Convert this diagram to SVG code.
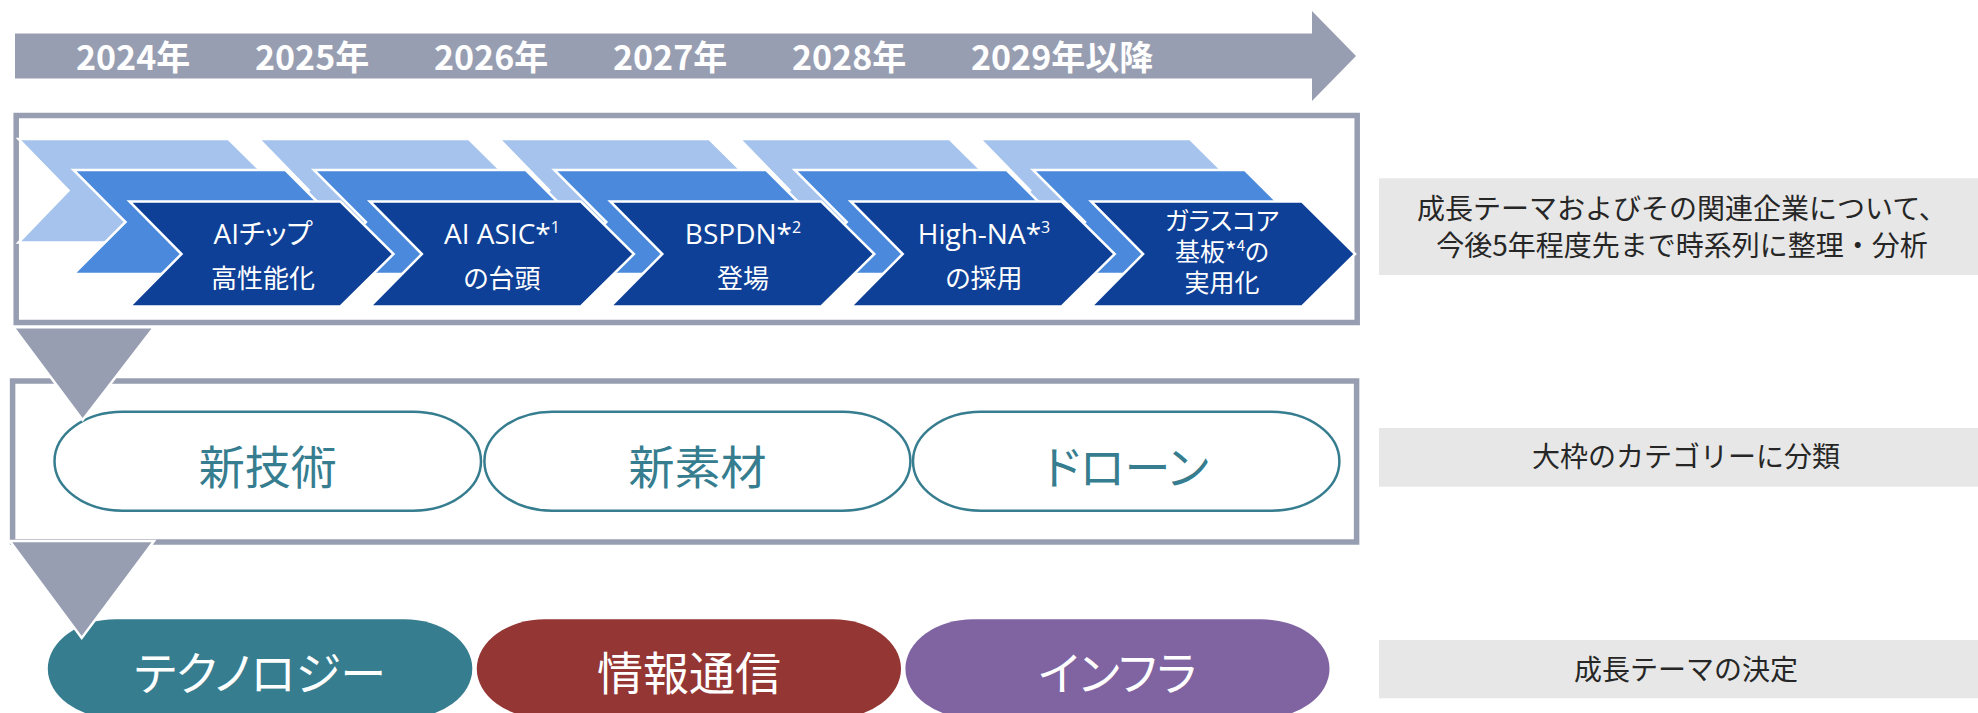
<svg xmlns="http://www.w3.org/2000/svg" xmlns:xlink="http://www.w3.org/1999/xlink" width="1978" height="713" viewBox="0 0 1978 713">
<style>
.yr{font-family:"Noto Sans CJK JP",sans-serif;font-weight:700;font-size:34px;fill:#ffffff}
.frame{fill:none;stroke:#989eb2;stroke-width:5.5}
.lt{fill:#a5c3ec;stroke:#ffffff;stroke-width:2.5}
.md{fill:#4a89dc;stroke:#ffffff;stroke-width:2.5}
.dk{fill:#0e4097;stroke:#ffffff;stroke-width:2.5}
.cl{font-family:"Open Sans","Noto Sans CJK JP",sans-serif;font-size:28px;fill:#ffffff;text-anchor:middle;font-feature-settings:"palt"}
.cj{font-family:"Noto Sans CJK JP",sans-serif;font-size:26px;fill:#ffffff;text-anchor:middle;font-feature-settings:"palt"}
.cj3{font-family:"Noto Sans CJK JP",sans-serif;font-size:25px;fill:#ffffff;text-anchor:middle;font-feature-settings:"palt"}
.side{fill:#e7e7e7}
.st{font-family:"Noto Sans CJK JP",sans-serif;font-size:28px;fill:#262626;text-anchor:middle}
.cat{fill:#ffffff;stroke:#367d8f;stroke-width:2.5}
.catt{font-family:"Noto Sans CJK JP",sans-serif;font-size:46px;fill:#367d8f;text-anchor:middle;font-feature-settings:"palt"}
.tht{font-family:"Noto Sans CJK JP",sans-serif;font-size:46px;fill:#ffffff;text-anchor:middle;font-feature-settings:"palt"}
.tri{fill:#989eb2;stroke:#ffffff;stroke-width:2.5}
</style>
<defs>
<polygon id="chevL" points="0,0 210,0 262,51.5 210,103.5 0,103.5 50,51.5"/>
<polygon id="chevM" points="0,0 212,0 264,52 212,104 0,104 52,52"/>
<polygon id="chevD" points="0,0 211,0 264,52.5 211,105 0,105 52,52.5"/>
</defs>

<g id="timeline">
<polygon points="15,33.5 1312,33.5 1312,11 1356,56 1312,101 1312,78.5 15,78.5" fill="#989eb2"/>
<text class="yr" x="76" y="70">2024年</text>
<text class="yr" x="255" y="70">2025年</text>
<text class="yr" x="434" y="70">2026年</text>
<text class="yr" x="613" y="70">2027年</text>
<text class="yr" x="792" y="70">2028年</text>
<text class="yr" x="971" y="70">2029年以降</text>
</g>

<g id="frame-timeline"><rect class="frame" x="16.2" y="115.5" width="1341" height="207"/></g>
<g id="frame-category"><rect class="frame" x="12.6" y="381" width="1344" height="161"/></g>

<g id="chevron-back">
<use xlink:href="#chevL" class="lt" x="18.5" y="139"/>
<use xlink:href="#chevL" class="lt" x="258.9" y="139"/>
<use xlink:href="#chevL" class="lt" x="499.3" y="139"/>
<use xlink:href="#chevL" class="lt" x="739.7" y="139"/>
<use xlink:href="#chevL" class="lt" x="980.1" y="139"/>
<use xlink:href="#chevM" class="md" x="73.5" y="170"/>
<use xlink:href="#chevM" class="md" x="313.9" y="170"/>
<use xlink:href="#chevM" class="md" x="554.3" y="170"/>
<use xlink:href="#chevM" class="md" x="794.7" y="170"/>
<use xlink:href="#chevM" class="md" x="1033" y="170"/>
</g>

<g id="step-2024">
<use xlink:href="#chevD" class="dk" x="129.5" y="201.5"/>
<text class="cl" x="263" y="243.5">AIチップ</text>
<text class="cj" x="263" y="288">高性能化</text>
</g>
<g id="step-2025">
<use xlink:href="#chevD" class="dk" x="369.9" y="201.5"/>
<text class="cl" x="502" y="243.5">AI ASIC*<tspan font-size="16" dy="-11">1</tspan></text>
<text class="cj" x="502" y="288">の台頭</text>
</g>
<g id="step-2026">
<use xlink:href="#chevD" class="dk" x="610.3" y="201.5"/>
<text class="cl" x="743" y="243.5">BSPDN*<tspan font-size="16" dy="-11">2</tspan></text>
<text class="cj" x="743" y="288">登場</text>
</g>
<g id="step-2027">
<use xlink:href="#chevD" class="dk" x="850.7" y="201.5"/>
<text class="cl" x="984" y="243.5">High-NA*<tspan font-size="16" dy="-11">3</tspan></text>
<text class="cj" x="984" y="288">の採用</text>
</g>
<g id="step-2028">
<use xlink:href="#chevD" class="dk" x="1091.1" y="201.5"/>
<text class="cj3" x="1222" y="230">ガラスコア</text>
<text class="cj3" x="1222" y="261">基板*<tspan font-size="15" dy="-10">4</tspan><tspan dy="10">の</tspan></text>
<text class="cj3" x="1222" y="292">実用化</text>
</g>

<g id="cat-newtech">
<rect class="cat" x="54.5" y="411.7" width="426.5" height="99" rx="68" ry="49.5"/>
<text class="catt" x="267.7" y="483.5">新技術</text>
</g>
<g id="cat-newmaterial">
<rect class="cat" x="484.4" y="411.7" width="426" height="99" rx="68" ry="49.5"/>
<text class="catt" x="697.4" y="483.5">新素材</text>
</g>
<g id="cat-drone">
<rect class="cat" x="913" y="411.7" width="426.4" height="99" rx="68" ry="49.5"/>
<text class="catt" x="1126.2" y="483.5">ドローン</text>
</g>

<g id="theme-technology">
<rect x="47.8" y="619.3" width="424.5" height="99" rx="68" ry="49.5" fill="#367d8f"/>
<text class="tht" x="260" y="690">テクノロジー</text>
</g>
<g id="theme-ict">
<rect x="476.8" y="619.3" width="424.2" height="99" rx="68" ry="49.5" fill="#943634"/>
<text class="tht" x="689" y="690">情報通信</text>
</g>
<g id="theme-infra">
<rect x="905.4" y="619.3" width="424.1" height="99" rx="68" ry="49.5" fill="#8064a2"/>
<text class="tht" x="1117.5" y="690">インフラ</text>
</g>

<g id="connectors">
<polygon class="tri" points="13.4,327.3 154,327.3 82.6,420"/>
<polygon class="tri" points="9.8,541 154,541 81.7,638"/>
</g>

<g id="note-analysis">
<rect class="side" x="1379" y="178.3" width="599" height="96.7"/>
<text class="st" x="1682" y="219">成長テーマおよびその関連企業について、</text>
<text class="st" x="1682" y="256">今後5年程度先まで時系列に整理・分析</text>
</g>
<g id="note-classify">
<rect class="side" x="1379" y="428" width="599" height="58.7"/>
<text class="st" x="1686" y="467">大枠のカテゴリーに分類</text>
</g>
<g id="note-decide">
<rect class="side" x="1379" y="640" width="599" height="58.3"/>
<text class="st" x="1686" y="680">成長テーマの決定</text>
</g>
</svg>
